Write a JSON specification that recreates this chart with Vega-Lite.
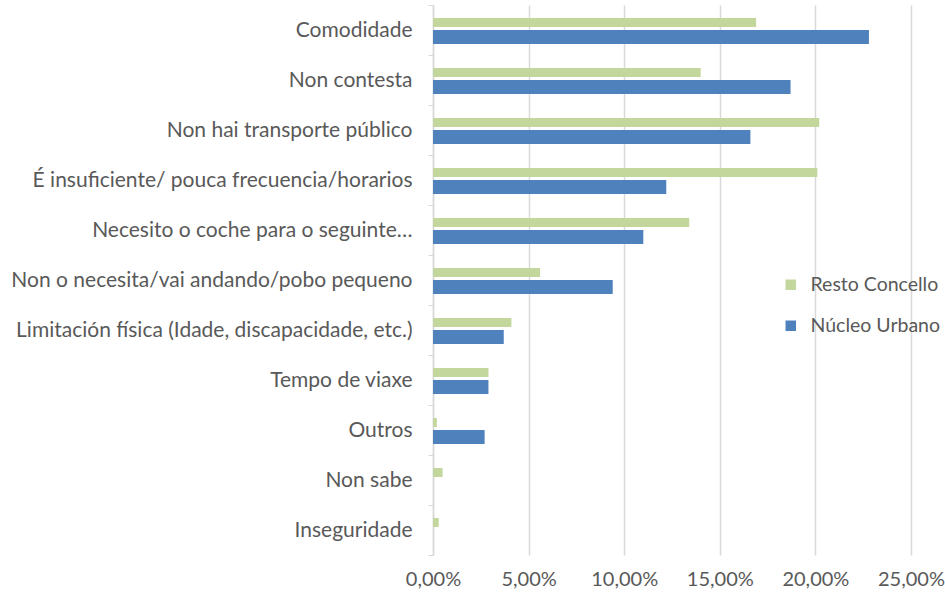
{
  "$schema": "https://vega.github.io/schema/vega-lite/v6.json",
  "width": 478,
  "height": 550,
  "autosize": {"type": "none"},
  "padding": {"left": 433, "top": 5, "right": 34, "bottom": 40},
  "background": "white",
  "config": {
    "view": {"stroke": null},
    "font": "Lato"
  },
  "data": {
    "values": [
      {"cat": "Comodidade", "serie": "Resto Concello", "value": 0.169},
      {"cat": "Comodidade", "serie": "Núcleo Urbano", "value": 0.228},
      {"cat": "Non contesta", "serie": "Resto Concello", "value": 0.140},
      {"cat": "Non contesta", "serie": "Núcleo Urbano", "value": 0.187},
      {"cat": "Non hai transporte público", "serie": "Resto Concello", "value": 0.202},
      {"cat": "Non hai transporte público", "serie": "Núcleo Urbano", "value": 0.166},
      {"cat": "É insuficiente/ pouca frecuencia/horarios", "serie": "Resto Concello", "value": 0.201},
      {"cat": "É insuficiente/ pouca frecuencia/horarios", "serie": "Núcleo Urbano", "value": 0.122},
      {"cat": "Necesito o coche para o seguinte…", "serie": "Resto Concello", "value": 0.134},
      {"cat": "Necesito o coche para o seguinte…", "serie": "Núcleo Urbano", "value": 0.110},
      {"cat": "Non o necesita/vai andando/pobo pequeno", "serie": "Resto Concello", "value": 0.056},
      {"cat": "Non o necesita/vai andando/pobo pequeno", "serie": "Núcleo Urbano", "value": 0.094},
      {"cat": "Limitación física (Idade, discapacidade, etc.)", "serie": "Resto Concello", "value": 0.041},
      {"cat": "Limitación física (Idade, discapacidade, etc.)", "serie": "Núcleo Urbano", "value": 0.037},
      {"cat": "Tempo de viaxe", "serie": "Resto Concello", "value": 0.029},
      {"cat": "Tempo de viaxe", "serie": "Núcleo Urbano", "value": 0.029},
      {"cat": "Outros", "serie": "Resto Concello", "value": 0.002},
      {"cat": "Outros", "serie": "Núcleo Urbano", "value": 0.027},
      {"cat": "Non sabe", "serie": "Resto Concello", "value": 0.005},
      {"cat": "Non sabe", "serie": "Núcleo Urbano", "value": 0.0},
      {"cat": "Inseguridade", "serie": "Resto Concello", "value": 0.003},
      {"cat": "Inseguridade", "serie": "Núcleo Urbano", "value": 0.0}
    ]
  },
  "encoding": {
    "y": {
      "field": "cat",
      "type": "nominal",
      "sort": null,
      "title": null,
      "scale": {"paddingInner": 0, "paddingOuter": 0},
      "axis": {
        "labelFontSize": 21,
        "labelColor": "#595959",
        "labelLimit": 500,
        "labelPadding": 16,
        "domainColor": "#D9D9D9",
        "domainWidth": 1.5,
        "tickColor": "#D9D9D9",
        "tickBand": "extent",
        "tickSize": 5,
        "grid": false
      }
    },
    "x": {
      "field": "value",
      "type": "quantitative",
      "title": null,
      "scale": {"domain": [0, 0.25], "nice": false},
      "axis": {
        "values": [0, 0.05, 0.1, 0.15, 0.2, 0.25],
        "labelExpr": "replace(format(datum.value, '.2%'), '.', ',')",
        "labelFontSize": 20,
        "labelColor": "#595959",
        "labelPadding": 14,
        "labelFlush": false,
        "labelOverlap": false,
        "domain": false,
        "ticks": false,
        "grid": true,
        "gridColor": "#D9D9D9",
        "gridWidth": 1.5
      }
    },
    "color": {
      "field": "serie",
      "type": "nominal",
      "scale": {"domain": ["Resto Concello", "Núcleo Urbano"], "range": ["#C3D69B", "#4F81BD"]},
      "legend": {
        "title": null,
        "orient": "none",
        "legendX": 348,
        "legendY": 270,
        "symbolType": "square",
        "symbolSize": 110,
        "labelFontSize": 19.5,
        "labelColor": "#595959",
        "rowPadding": 20,
        "labelOffset": 10
      }
    }
  },
  "layer": [
    {
      "transform": [{"filter": "datum.serie === 'Resto Concello'"}],
      "mark": {"type": "bar", "height": 9, "yOffset": -7.5}
    },
    {
      "transform": [{"filter": "datum.serie === 'Núcleo Urbano'"}],
      "mark": {"type": "bar", "height": 14, "yOffset": 7}
    }
  ]
}
